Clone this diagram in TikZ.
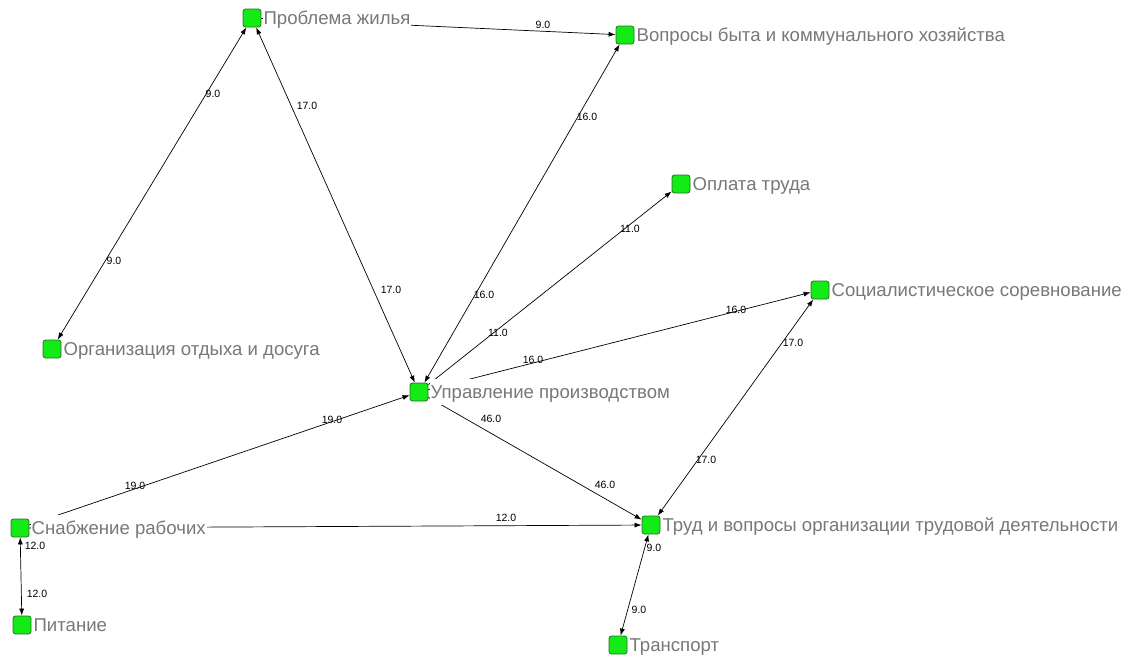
\documentclass[tikz,border=0pt]{standalone}
\usepackage{fontspec}
\setmainfont{Liberation Sans}
\usetikzlibrary{arrows.meta,positioning}
\definecolor{sqfill}{RGB}{20,235,20}
\definecolor{sqdraw}{RGB}{40,110,40}
\definecolor{nametxt}{RGB}{120,120,120}
\tikzset{sqnode/.style={draw=sqdraw,fill=sqfill,rounded corners=2.5pt,minimum size=18pt,inner sep=0pt,line width=.8pt}}
\tikzset{nname/.style={right=1pt of #1,fill=white,text=nametxt,font=\fontsize{18.6}{18.6}\selectfont,inner xsep=1pt,inner ysep=3pt,text height=16pt,text depth=4pt}}
\tikzset{tie/.style={line width=.7pt,>={Latex[length=7pt,width=5pt]}}}
\tikzset{wlbl/.style={font=\fontsize{10.5}{10.5}\selectfont,inner sep=0pt}}
\begin{document}
\begin{tikzpicture}[x=1pt,y=-1pt]
\useasboundingbox (0,0) rectangle (1127,659);
% squares
\node[sqnode](zhil) at (252,18){};\node[sqnode](byt) at (625,35){};\node[sqnode](oplata) at (681,184){};
\node[sqnode](sorev) at (820,290){};\node[sqnode](otdyh) at (52,349){};\node[sqnode](upr) at (419,392){};
\node[sqnode](snab) at (20,528){};\node[sqnode](trud) at (651,525){};\node[sqnode](pit) at (22,625){};
\node[sqnode](transp) at (618,645){};
% ties
\begin{scope}[tie]
\draw[->](zhil)--(byt);\draw[<->](otdyh)--(zhil);\draw[<->](zhil)--(upr);\draw[<->](upr)--(byt);
\draw[->](upr)--(oplata);\draw[->](upr)--(sorev);\draw[->](upr)--(trud);
\draw[->](snab)--(upr);\draw[->](snab)--(trud);\draw[<->](snab)--(pit);
\draw[<->](trud)--(sorev);\draw[<->](trud)--(transp);
\end{scope}
% names
\node[nname=zhil](zhil-t){Проблема жилья};
\node[nname=byt](byt-t){Вопросы быта и коммунального хозяйства};
\node[nname=oplata](oplata-t){Оплата труда};
\node[nname=sorev](sorev-t){Социалистическое соревнование};
\node[nname=otdyh](otdyh-t){Организация отдыха и досуга};
\node[nname=upr](upr-t){Управление производством};
\node[nname=snab](snab-t){Снабжение рабочих};
\node[nname=trud](trud-t){Труд и вопросы организации трудовой деятельности};
\node[nname=pit](pit-t){Питание};
\node[nname=transp](transp-t){Транспорт};
% weights
\foreach \px/\py/\w [count=\i] in {543/25/9.0,213/94/9.0,114/261/9.0,307/106/17.0,391/290/17.0,587/117/16.0,484/295/16.0,
630/229/11.0,498/333/11.0,736/310/16.0,533/360/16.0,491/419/46.0,605/485/46.0,135/486/19.0,332/420/19.0,
506/518/12.0,35/546/12.0,37/594/12.0,793/343/17.0,706/460/17.0,654/548/9.0,639/610/9.0}
\node[wlbl](w\i) at (\px,\py){\w};
\end{tikzpicture}
\end{document}
